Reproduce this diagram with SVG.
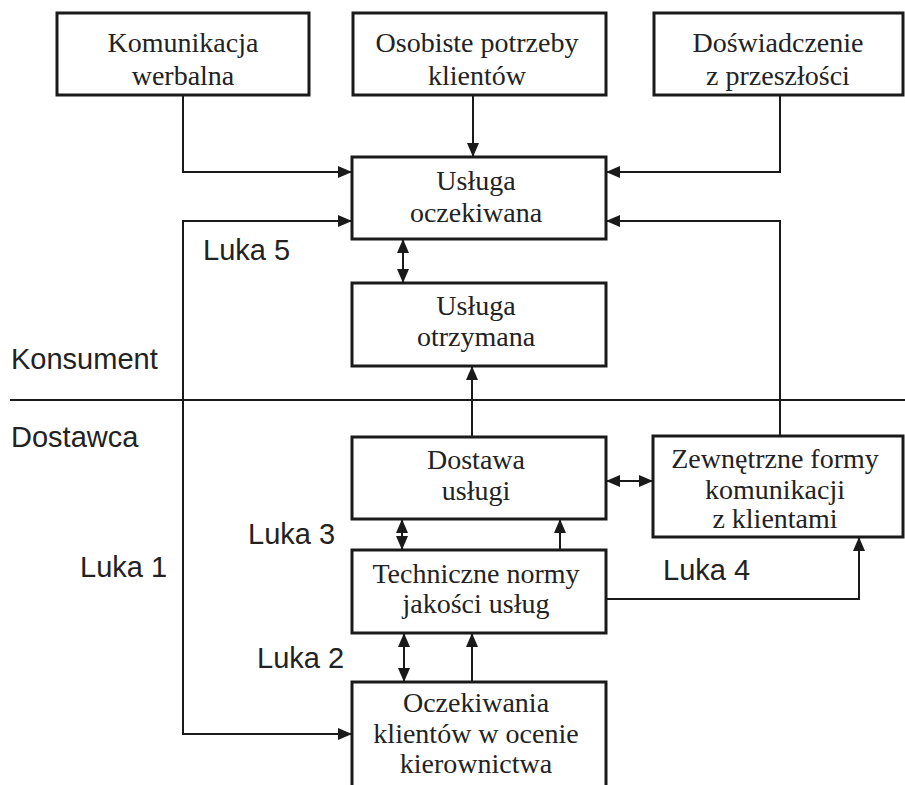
<svg xmlns="http://www.w3.org/2000/svg" width="905" height="785" viewBox="0 0 905 785">
  <style>
    .box { fill: #ffffff; stroke: #1a1a1a; stroke-width: 3; }
    .lbl { font-family: "Liberation Serif", "Times New Roman", serif; font-size: 28px; fill: #222; text-anchor: middle; }
    .side { font-family: "Liberation Sans", Arial, sans-serif; font-size: 29px; fill: #222; }
    .wire { fill: none; stroke: #1a1a1a; stroke-width: 2; }
  </style>
  <defs>
    <marker id="ah" markerUnits="userSpaceOnUse" markerWidth="14" markerHeight="12" viewBox="0 0 14 12" refX="14" refY="6" orient="auto-start-reverse">
      <path d="M0,0 L14,6 L0,12 Z" fill="#1a1a1a"/>
    </marker>
  </defs>
  <rect width="905" height="785" fill="#ffffff"/>

  <!-- connectors -->
  <g id="connectors">
    <line class="wire" x1="10" y1="400" x2="905" y2="400"/>
    <!-- inputs to expected service -->
    <path class="wire" d="M183,95 V172 H352" marker-end="url(#ah)"/>
    <path class="wire" d="M473,95 V157" marker-end="url(#ah)"/>
    <path class="wire" d="M780,95 V172 H606" marker-end="url(#ah)"/>
    <!-- gap 1 loop -->
    <path class="wire" d="M352,221 H183 V734 H352" marker-start="url(#ah)" marker-end="url(#ah)"/>
    <!-- external communication to expected service -->
    <path class="wire" d="M780,436 V221 H606" marker-end="url(#ah)"/>
    <!-- gap 5 -->
    <path class="wire" d="M403,239 V283" marker-start="url(#ah)" marker-end="url(#ah)"/>
    <!-- delivery to received service -->
    <path class="wire" d="M472,437 V366" marker-end="url(#ah)"/>
    <!-- delivery <-> external communication -->
    <path class="wire" d="M606,481 H653" marker-start="url(#ah)" marker-end="url(#ah)"/>
    <!-- gap 3 -->
    <path class="wire" d="M402,519 V550" marker-start="url(#ah)" marker-end="url(#ah)"/>
    <path class="wire" d="M560,550 V519" marker-end="url(#ah)"/>
    <!-- gap 4 -->
    <path class="wire" d="M606,599 H859 V537" marker-end="url(#ah)"/>
    <!-- gap 2 -->
    <path class="wire" d="M404,633 V682" marker-start="url(#ah)" marker-end="url(#ah)"/>
    <path class="wire" d="M472,682 V633" marker-end="url(#ah)"/>
  </g>

  <g id="komunikacja-werbalna">
    <rect class="box" x="57" y="13" width="252" height="82"/>
    <text class="lbl" x="183" y="52">Komunikacja</text>
    <text class="lbl" x="183" y="85">werbalna</text>
  </g>
  <g id="osobiste-potrzeby">
    <rect class="box" x="353" y="13" width="253" height="82"/>
    <text class="lbl" x="477" y="52">Osobiste potrzeby</text>
    <text class="lbl" x="477" y="85">klientów</text>
  </g>
  <g id="doswiadczenie">
    <rect class="box" x="654" y="13" width="249" height="82"/>
    <text class="lbl" x="778" y="52">Doświadczenie</text>
    <text class="lbl" x="778" y="85">z przeszłości</text>
  </g>
  <g id="usluga-oczekiwana">
    <rect class="box" x="352" y="157" width="254" height="82"/>
    <text class="lbl" x="476" y="190">Usługa</text>
    <text class="lbl" x="476" y="222">oczekiwana</text>
  </g>
  <g id="usluga-otrzymana">
    <rect class="box" x="352" y="283" width="254" height="83"/>
    <text class="lbl" x="476" y="315">Usługa</text>
    <text class="lbl" x="476" y="346">otrzymana</text>
  </g>
  <g id="dostawa-uslugi">
    <rect class="box" x="352" y="437" width="254" height="82"/>
    <text class="lbl" x="476" y="469">Dostawa</text>
    <text class="lbl" x="476" y="500">usługi</text>
  </g>
  <g id="zewnetrzne-formy">
    <rect class="box" x="653" y="436" width="250" height="101"/>
    <text class="lbl" x="775" y="468">Zewnętrzne formy</text>
    <text class="lbl" x="775" y="499">komunikacji</text>
    <text class="lbl" x="775" y="528">z klientami</text>
  </g>
  <g id="techniczne-normy">
    <rect class="box" x="352" y="550" width="254" height="83"/>
    <text class="lbl" x="476" y="583">Techniczne normy</text>
    <text class="lbl" x="476" y="613">jakości usług</text>
  </g>
  <g id="oczekiwania-klientow">
    <rect class="box" x="352" y="682" width="254" height="120"/>
    <text class="lbl" x="476" y="712">Oczekiwania</text>
    <text class="lbl" x="476" y="743">klientów w ocenie</text>
    <text class="lbl" x="476" y="773">kierownictwa</text>
  </g>

  <g id="labels">
    <text class="side" x="11" y="369">Konsument</text>
    <text class="side" x="11" y="447">Dostawca</text>
    <text class="side" x="203" y="260">Luka 5</text>
    <text class="side" x="248" y="544">Luka 3</text>
    <text class="side" x="80" y="577">Luka 1</text>
    <text class="side" x="663" y="580">Luka 4</text>
    <text class="side" x="257" y="668">Luka 2</text>
  </g>
</svg>
